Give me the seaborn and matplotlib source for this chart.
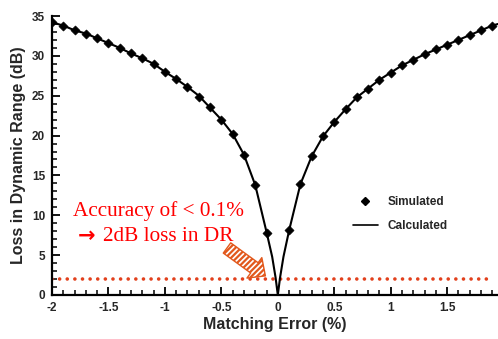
import matplotlib
matplotlib.use("Agg")
import matplotlib.pyplot as plt
from matplotlib.lines import Line2D
from matplotlib.ticker import MultipleLocator
import pandas as pd
import seaborn as sns

# Simulated loss (dB) vs matching error (%)
sim_error = [-2.0, -1.9, -1.8, -1.7, -1.6, -1.5, -1.4, -1.3, -1.2, -1.1,
             -1.0, -0.9, -0.8, -0.7, -0.6, -0.5, -0.4, -0.3, -0.2, -0.1,
             0.1, 0.2, 0.3, 0.4, 0.5, 0.6, 0.7, 0.8, 0.9, 1.0,
             1.1, 1.2, 1.3, 1.4, 1.5, 1.6, 1.7, 1.8, 1.9]
sim_loss = [34.2, 33.8, 33.2, 32.8, 32.2, 31.6, 31.0, 30.3, 29.7, 29.0,
            28.0, 27.1, 26.1, 24.9, 23.6, 21.9, 20.2, 17.6, 13.8, 7.8,
            8.2, 13.9, 17.4, 19.9, 21.7, 23.3, 24.8, 25.9, 27.0, 27.9,
            28.8, 29.5, 30.2, 30.8, 31.4, 32.0, 32.6, 33.2, 33.8]

# Calculated loss (dB) vs matching error (%)
calc_error = [-2.0, -1.9, -1.8, -1.7, -1.6, -1.5, -1.4, -1.3, -1.2, -1.1,
              -1.0, -0.9, -0.8, -0.7, -0.6, -0.5, -0.4, -0.3, -0.2, -0.1,
              -0.05, -0.02, 0.0, 0.02, 0.05,
              0.1, 0.2, 0.3, 0.4, 0.5, 0.6, 0.7, 0.8, 0.9, 1.0,
              1.1, 1.2, 1.3, 1.4, 1.5, 1.6, 1.7, 1.8, 1.9, 1.95]
calc_loss = [34.2, 33.8, 33.2, 32.8, 32.2, 31.6, 31.0, 30.3, 29.7, 29.0,
             28.0, 27.1, 26.1, 25.0, 23.5, 22.0, 20.2, 17.6, 13.8, 7.9,
             4.8, 2.2, 0.0, 2.2, 4.8,
             8.1, 13.9, 17.4, 19.9, 21.7, 23.3, 24.8, 25.9, 27.0, 27.9,
             28.8, 29.5, 30.2, 30.8, 31.4, 32.0, 32.6, 33.2, 33.8, 34.0]

target_loss = 2.0
x_ticks = [-2, -1.5, -1, -0.5, 0, 0.5, 1, 1.5]
x_tick_labels = ["-2", "-1.5", "-1", "-0.5", "0", "0.5", "1", "1.5"]

sns.set_style("ticks")
plt.rcParams["font.family"] = ["Liberation Sans", "DejaVu Sans"]
plt.rcParams["font.weight"] = "bold"
plt.rcParams["hatch.linewidth"] = 1.6

sim_df = pd.DataFrame({"error": sim_error, "loss": sim_loss})
calc_df = pd.DataFrame({"error": calc_error, "loss": calc_loss})

fig = plt.figure(figsize=(4.98, 3.39), dpi=100)
ax = fig.add_axes([0.1044, 0.1298, 0.8956, 0.8230])

sns.lineplot(data=calc_df, x="error", y="loss", ax=ax, color="black",
             linewidth=1.5, estimator=None, sort=False, zorder=3)
sns.scatterplot(data=sim_df, x="error", y="loss", ax=ax, color="black",
                marker="D", s=22, edgecolor="black", linewidth=0.4, zorder=4)

# 2 dB reference level
ax.plot([-2.0, 1.85], [target_loss, target_loss], color="#e2401c",
        linewidth=2.6, linestyle=(0, (0.01, 2.1)), dash_capstyle="round",
        zorder=2)

ax.set_xlim(-2.0, 1.95)
ax.set_ylim(0, 35)
ax.set_xticks(x_ticks)
ax.set_xticklabels(x_tick_labels)
ax.xaxis.set_minor_locator(MultipleLocator(0.1))
ax.yaxis.set_major_locator(MultipleLocator(5))
ax.yaxis.set_minor_locator(MultipleLocator(1))
ax.tick_params(which="major", direction="in", length=6, width=1.3,
               labelsize=8.5, pad=5, color="black")
ax.tick_params(which="minor", direction="in", length=3.5, width=1.1,
               color="black")
for lab in ax.get_xticklabels() + ax.get_yticklabels():
    lab.set_fontweight("bold")

for side in ("top", "right"):
    ax.spines[side].set_visible(False)
for side in ("left", "bottom"):
    ax.spines[side].set_linewidth(1.6)
    ax.spines[side].set_color("black")

ax.set_xlabel("Matching Error (%)", fontsize=11.5, fontweight="bold",
              labelpad=2)
ax.set_ylabel("Loss in Dynamic Range (dB)", fontsize=11.5, fontweight="bold",
              labelpad=4)

# Annotation
serif = ["Liberation Serif", "DejaVu Serif"]
ax.text(-1.81, 10.5, "Accuracy of < 0.1%", color="#ff0000", fontsize=15.3,
        family=serif, fontweight="normal", ha="left", va="center")
ax.text(-1.77, 7.4, "\u2192", color="#ff0000", fontsize=15,
        family=["DejaVu Sans"], fontweight="bold", ha="left", va="center")
ax.text(-1.55, 7.3, "2dB loss in DR", color="#ff0000", fontsize=15.3,
        family=serif, fontweight="normal", ha="left", va="center")
ax.annotate("", xy=(-0.11, 2.4), xytext=(-0.45, 5.9),
            arrowprops=dict(arrowstyle="simple,head_length=0.7,head_width=1.3,"
                                       "tail_width=0.65",
                            facecolor="white", edgecolor="#e2581c",
                            hatch="//////", linewidth=1.0,
                            mutation_scale=14, shrinkA=0, shrinkB=0),
            zorder=5)

# Legend
handles = [Line2D([], [], color="black", marker="D", linestyle="none",
                  markersize=4.5),
           Line2D([], [], color="black", linewidth=1.2)]
ax.legend(handles, ["Simulated", "Calculated"], frameon=False,
          loc="center left", bbox_to_anchor=(0.651, 0.29),
          handlelength=2.1, handletextpad=0.8, labelspacing=1.0,
          prop={"weight": "bold", "size": 8.5})

fig.savefig("out.png", dpi=100)
